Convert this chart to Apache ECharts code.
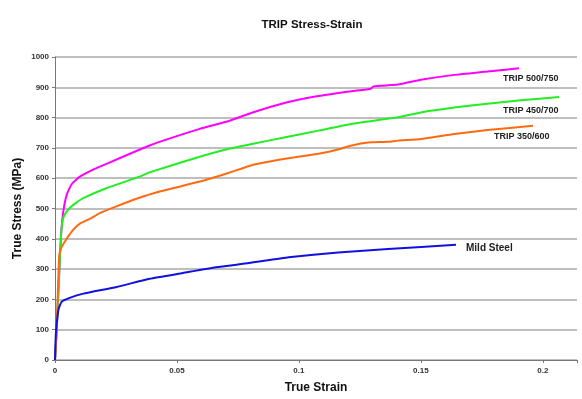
<!DOCTYPE html>
<html>
<head>
<meta charset="utf-8">
<script src="https://cdn.jsdelivr.net/npm/echarts@6/dist/echarts.min.js"></script>
<style>
  html, body { margin: 0; padding: 0; background: #fff; }
  #chart { width: 582px; height: 399px; }
</style>
</head>
<body>
<div id="chart"></div>
<script>
// True stress (MPa) against true strain, as [strain, stress] pairs
const trip500750 = [
  [0, 0], [0.0007, 100], [0.0018, 300], [0.0025, 415], [0.0034, 490], [0.0048, 545],
  [0.0068, 580], [0.0102, 605], [0.0156, 628], [0.0184, 638], [0.0388, 708],
  [0.059, 762], [0.0713, 789], [0.0807, 816], [0.0944, 849], [0.108, 871],
  [0.1215, 887], [0.1295, 895], [0.1305, 903], [0.1406, 909], [0.15, 925],
  [0.1637, 941], [0.1773, 952], [0.1902, 963]
];
const trip450700 = [
  [0, 0], [0.0007, 100], [0.0018, 300], [0.0025, 415], [0.0034, 469], [0.0054, 496],
  [0.0075, 512], [0.0116, 534], [0.021, 567], [0.0347, 605], [0.039, 620],
  [0.059, 670], [0.0713, 697], [0.0807, 713], [0.0944, 735], [0.108, 757],
  [0.1215, 779], [0.1406, 801], [0.15, 817], [0.1637, 833], [0.1773, 846],
  [0.191, 857], [0.2066, 868]
];
const trip350600 = [
  [0, 0], [0.0007, 100], [0.0016, 328], [0.0023, 366], [0.0048, 400], [0.0075, 430],
  [0.0102, 450], [0.0143, 466], [0.0184, 485], [0.0252, 507], [0.0334, 532],
  [0.0429, 556], [0.059, 588], [0.0713, 618], [0.0807, 643], [0.0944, 664],
  [0.108, 681], [0.1148, 692], [0.1216, 708], [0.1284, 718], [0.1365, 720],
  [0.1406, 724], [0.15, 729], [0.1637, 746], [0.1773, 759], [0.196, 773]
];
const mildSteel = [
  [0, 0], [0.0003, 80], [0.0007, 120], [0.0014, 166], [0.0027, 192], [0.006, 205],
  [0.0116, 219], [0.0252, 241], [0.0388, 268], [0.0524, 287], [0.066, 306],
  [0.0795, 320], [0.0958, 339], [0.1161, 355], [0.1365, 366], [0.1644, 380]
];

const xTicks = [0, 0.05, 0.1, 0.15, 0.2];

const FONT = '"Liberation Sans", Arial, sans-serif';

function curve(name, data, color, label) {
  return {
    name: name,
    type: 'line',
    data: data,
    showSymbol: false,
    symbol: 'none',
    smooth: 0.15,
    lineStyle: { color: color, width: 2 },
    itemStyle: { color: color },
    z: 3,
    endLabel: Object.assign({
      show: true,
      formatter: name,
      color: '#222',
      fontFamily: FONT,
      fontWeight: 'bold',
      fontSize: 9
    }, label)
  };
}

const chart = echarts.init(document.getElementById('chart'), null, { renderer: 'canvas' });
chart.setOption({
  animation: false,
  backgroundColor: '#fff',
  title: {
    text: 'TRIP Stress-Strain',
    left: 307,
    top: 14,
    textAlign: 'center',
    textStyle: { fontFamily: FONT, fontWeight: 'bold', fontSize: 11.5, color: '#111' }
  },
  grid: { left: 55, right: 5, top: 57, bottom: 35, containLabel: false },
  xAxis: {
    type: 'value',
    min: 0,
    max: 0.214,
    interval: 0.05,
    name: 'True Strain',
    nameLocation: 'middle',
    nameGap: 22,
    nameMoveOverlap: false,
    nameTextStyle: { fontFamily: FONT, fontWeight: 'bold', fontSize: 12, color: '#111' },
    axisLine: { show: true, lineStyle: { color: '#777', width: 1 } },
    axisTick: { show: true, length: 3, lineStyle: { color: '#777' } },
    splitLine: { show: false },
    axisLabel: {
      fontFamily: FONT, fontWeight: 'bold', fontSize: 8, color: '#333', margin: 7,
      formatter: function (v) {
        const hit = xTicks.find(t => Math.abs(t - v) < 1e-9);
        return hit === undefined ? '' : String(hit);
      }
    }
  },
  yAxis: {
    type: 'value',
    min: 0,
    max: 1000,
    interval: 100,
    name: 'True Stress (MPa)',
    nameLocation: 'middle',
    nameGap: 31,
    nameMoveOverlap: false,
    nameTextStyle: { fontFamily: FONT, fontWeight: 'bold', fontSize: 12, color: '#111' },
    axisLine: { show: true, lineStyle: { color: '#777', width: 1 } },
    axisTick: { show: true, length: 3, lineStyle: { color: '#777' } },
    splitLine: { show: true, lineStyle: { color: '#a8a8a8', width: 1.5 } },
    axisLabel: {
      fontFamily: FONT, fontWeight: 'bold', fontSize: 8, color: '#333', margin: 6,
      formatter: function (v) { return String(v); }
    }
  },
  series: [
    curve('TRIP 500/750', trip500750, '#ff00ff', { offset: [-24, 10] }),
    curve('TRIP 450/700', trip450700, '#22ee22', { offset: [-64, 14] }),
    curve('TRIP 350/600', trip350600, '#ff6a10', { offset: [-47, 11] }),
    curve('Mild Steel', mildSteel, '#1010e0', { offset: [2, 3], fontSize: 10 })
  ]
});
</script>
</body>
</html>
